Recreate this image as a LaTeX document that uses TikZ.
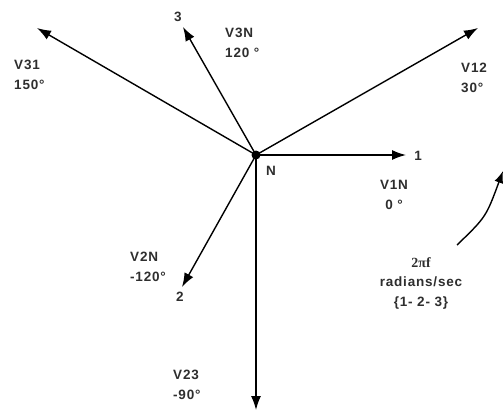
\documentclass[tikz,border=0pt]{standalone}
\usepackage{fontspec}
\usetikzlibrary{arrows.meta}
\newfontfamily\lblfont[LetterSpace=6]{Liberation Sans}
\newfontfamily\serfont{Liberation Serif}
\begin{document}
\begin{tikzpicture}[x=1pt,y=-1pt,
  vec/.style={line width=1.4pt,draw=black,-{Latex[length=14pt,width=10pt]}},
  lbl/.style={font=\lblfont\fontsize{13.5}{19.5}\selectfont\bfseries,text=black!82,inner sep=0pt,align=left},
  lblc/.style={lbl,align=center}]
\useasboundingbox (0,0) rectangle (503,412);
\fill[white] (0,0) rectangle (503,412);
\coordinate (N) at (256,155);
\coordinate (t31) at (37,28);
\coordinate (t3) at (183,27);
\coordinate (t12) at (478,28);
\coordinate (t1) at (406,155);
\coordinate (t2) at (182,287);
\coordinate (t23) at (256,410);
\draw[vec] (N) -- (t31);
\draw[vec] (N) -- (t3);
\draw[vec] (N) -- (t12);
\draw[vec] (N) -- (t1);
\draw[vec] (N) -- (t2);
\draw[vec] (N) -- (t23);
\fill[black] (N) circle (4.5);
\coordinate (cs) at (457,245);
\coordinate (ce) at (503,171);
\draw[line width=1.4pt,-{Latex[length=12pt,width=9pt]}] (cs) .. controls (486,217) .. (ce);
\node[lbl,anchor=west] (l31) at (14,75) {V31\\150°};
\node[lbl,anchor=west] (l3n) at (225,43) {V3N\\120 °};
\node[lbl,anchor=west] (l12) at (461,78) {V12\\30°};
\node[lblc] (l1n) at (394,195) {V1N\\0 °};
\node[lbl,anchor=west] (l2n) at (130,267) {V2N\\-120°};
\node[lbl,anchor=west] (l23) at (173,385) {V23\\-90°};
\node[lbl] (n3) at (178,17) {3};
\node[lbl] (n1) at (418,156) {1};
\node[lbl] (n2) at (180,297) {2};
\node[lbl] (nN) at (271,171) {N};
\node[lblc,anchor=north] (rot) at (421,257) {{\serfont\fontsize{14}{19.5}\selectfont 2πf}\\radians/sec\\\{1- 2- 3\}};
\end{tikzpicture}
\end{document}
